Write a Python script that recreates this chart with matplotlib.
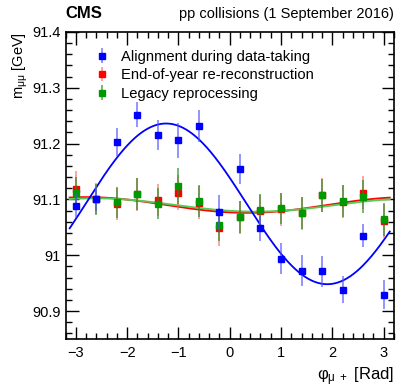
import numpy as np
import matplotlib
matplotlib.use('Agg')
import matplotlib.pyplot as plt
from matplotlib.ticker import MultipleLocator

plt.rcParams['font.family'] = ['Liberation Sans', 'DejaVu Sans']
plt.rcParams['mathtext.fontset'] = 'custom'
plt.rcParams['mathtext.rm'] = 'Liberation Sans'
plt.rcParams['mathtext.it'] = 'Liberation Sans'

# bin centres in phi(mu+)
phi = [-3.0, -2.6, -2.2, -1.8, -1.4, -1.0, -0.6, -0.2,
       0.2, 0.6, 1.0, 1.4, 1.8, 2.2, 2.6, 3.0]

# Alignment during data-taking
mass_prompt = [91.088, 91.101, 91.203, 91.252, 91.216, 91.206, 91.232, 91.077,
               91.155, 91.048, 90.994, 90.972, 90.971, 90.938, 91.035, 90.929]
err_prompt = [0.022, 0.022, 0.025, 0.022, 0.027, 0.031, 0.029, 0.031,
              0.027, 0.022, 0.027, 0.028, 0.028, 0.024, 0.021, 0.026]

# End-of-year re-reconstruction
mass_eoy = [91.119, 91.101, 91.092, 91.109, 91.099, 91.112, 91.094, 91.048,
            91.068, 91.079, 91.082, 91.075, 91.108, 91.096, 91.112, 91.061]
err_eoy = [0.031, 0.028, 0.029, 0.030, 0.028, 0.031, 0.030, 0.031,
           0.030, 0.029, 0.029, 0.030, 0.031, 0.029, 0.030, 0.030]

# Legacy reprocessing
mass_legacy = [91.111, 91.100, 91.095, 91.110, 91.092, 91.124, 91.097, 91.055,
               91.069, 91.081, 91.084, 91.076, 91.107, 91.097, 91.105, 91.064]
err_legacy = [0.030, 0.028, 0.028, 0.029, 0.028, 0.032, 0.029, 0.030,
              0.029, 0.028, 0.028, 0.029, 0.030, 0.028, 0.029, 0.029]

# fit results: m = offset + amplitude * cos(phi - phase)
fit_prompt = (91.092, 0.144, -1.24)
fit_eoy = (91.090, 0.014, -2.80)
fit_legacy = (91.090, 0.012, -2.64)

fig = plt.figure(figsize=(4.15, 3.9), dpi=100)
ax = fig.add_axes([0.158, 0.131, 0.791, 0.787])

xf = np.linspace(-3.12, 3.12, 300)


def fit_curve(p):
    return p[0] + p[1] * np.cos(xf - p[2])


ax.plot(xf, fit_curve(fit_eoy), color='red', lw=1.4, zorder=2)
ax.plot(xf, fit_curve(fit_legacy), color='#55cc55', lw=1.4, zorder=2)
ax.plot(xf, fit_curve(fit_prompt), color='blue', lw=1.3, zorder=2)

ax.errorbar(phi, mass_eoy, yerr=err_eoy, fmt='s', color='red', ms=5,
            ecolor=(1, 0.3, 0.3, 0.6), elinewidth=1.2, capsize=0, zorder=3,
            label='End-of-year re-reconstruction')
ax.errorbar(phi, mass_legacy, yerr=err_legacy, fmt='s', color='#009900', ms=5,
            ecolor=(0.1, 0.55, 0.1, 0.7), elinewidth=1.2, capsize=0, zorder=4,
            label='Legacy reprocessing')
ax.errorbar(phi, mass_prompt, yerr=err_prompt, fmt='s', color='blue', ms=5,
            ecolor=(0.3, 0.3, 1, 0.7), elinewidth=1.2, capsize=0, zorder=5,
            label='Alignment during data-taking')

ax.set_xlim(-3.2, 3.2)
ax.set_ylim(90.85, 91.4)
ax.xaxis.set_major_locator(MultipleLocator(1))
ax.xaxis.set_minor_locator(MultipleLocator(0.2))
ax.yaxis.set_major_locator(MultipleLocator(0.1))
ax.yaxis.set_minor_locator(MultipleLocator(0.02))
ax.yaxis.set_major_formatter(plt.FuncFormatter(lambda v, p: ('%.1f' % v).rstrip('0').rstrip('.')))
ax.tick_params(which='both', direction='in', top=True, right=True, labelsize=10.5, width=1)
ax.tick_params(which='major', length=9)
ax.tick_params(which='minor', length=4.5)
ax.tick_params(axis='x', pad=5)
for s in ax.spines.values():
    s.set_linewidth(1.2)

ax.set_ylabel(r'm$_{\mu\mu}$ [GeV]', fontsize=10.5, loc='top', labelpad=1.4)
ax.set_xlabel(r'φ$_{\mu\ +}$ [Rad]', fontsize=12, loc='right', labelpad=4)

ax.text(0.0, 1.035, 'CMS', transform=ax.transAxes, fontsize=12, fontweight='bold',
        ha='left', va='bottom')
ax.text(1.0, 1.035, 'pp collisions (1 September 2016)', transform=ax.transAxes,
        fontsize=10.5, ha='right', va='bottom')

handles, labels = ax.get_legend_handles_labels()
order = [2, 0, 1]
ax.legend([handles[i] for i in order], [labels[i] for i in order],
          loc='upper left', bbox_to_anchor=(0.048, 0.985), frameon=False,
          fontsize=10.6, handletextpad=0.8, labelspacing=0.3, handlelength=1.0)

fig.savefig('out.png', dpi=100)
